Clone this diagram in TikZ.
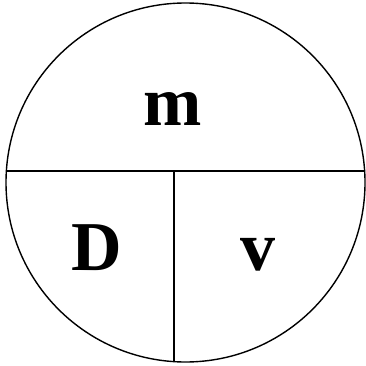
\documentclass[tikz,border=0pt]{standalone}
\usepackage{fontspec}
\setmainfont{Liberation Serif}
\usetikzlibrary{positioning}

\begin{document}
\begin{tikzpicture}[
  x=1pt, y=-1pt,
  part/.style={font=\fontsize{70}{70}\selectfont\bfseries, anchor=base, inner sep=0pt},
  rule/.style={line width=1.4pt}
]
\useasboundingbox (0,0) rectangle (365,366);

% circle and its parts
\node[draw, rule, circle, minimum size=359pt, inner sep=0pt] (circ) at (185.5,182.5) {};
\coordinate (hl) at (6,171);
\coordinate (hr) at (365,171);
\coordinate (vt) at (174,171);
\coordinate (vb) at (174,361.6);
\draw[rule] (hl) -- (hr);
\draw[rule] (vt) -- (vb);

% letters
\node[part] (m) at (173,126) {m};
\node[part] (D) at (97,270) {D};
\node[part] (v) at (258,270) {v};
\end{tikzpicture}
\end{document}
